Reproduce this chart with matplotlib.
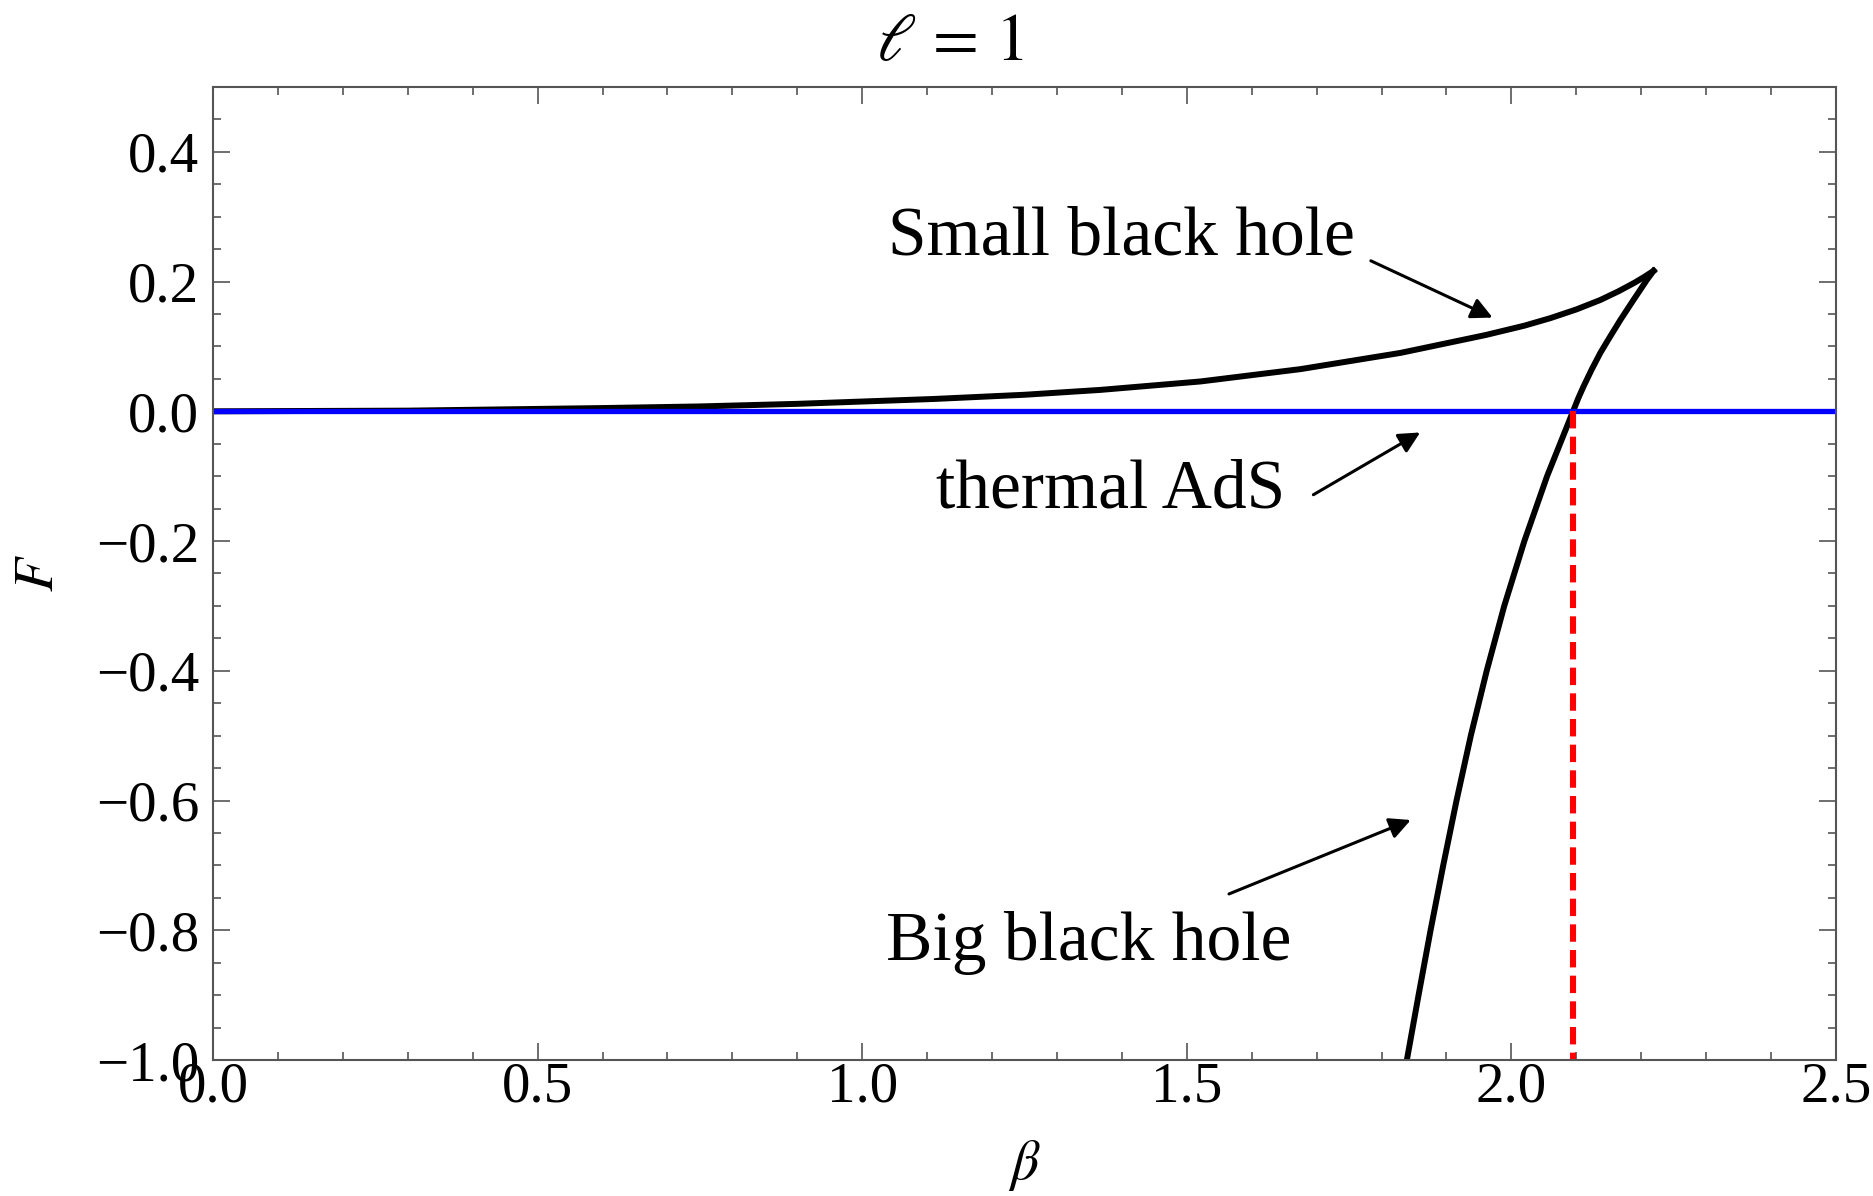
import matplotlib
matplotlib.use('Agg')
import matplotlib.pyplot as plt
from matplotlib.ticker import MultipleLocator

plt.rcParams['font.family'] = ['Liberation Serif', 'DejaVu Serif']
plt.rcParams['mathtext.fontset'] = 'stix'

# small black hole branch (beta, F)
beta_small = [0.0, 0.3, 0.6, 0.75, 0.9, 1.11, 1.25, 1.367, 1.521, 1.675,
              1.829, 1.96, 2.02, 2.06, 2.10, 2.137, 2.165, 2.19, 2.205, 2.219]
F_small = [0.0, 0.001, 0.005, 0.0075, 0.0115, 0.019, 0.0255, 0.033, 0.046, 0.065,
           0.090, 0.1175, 0.132, 0.1436, 0.157, 0.1716, 0.185, 0.1984, 0.2074, 0.2165]

# big black hole branch (beta, F)
beta_big = [2.219, 2.209, 2.187, 2.168, 2.152, 2.137, 2.124, 2.111, 2.103, 2.095,
            2.055, 2.020, 1.989, 1.962, 1.9375, 1.9155, 1.895, 1.8755, 1.857, 1.839]
F_big = [0.2165, 0.203, 0.170, 0.141, 0.115, 0.090, 0.065, 0.038, 0.020, 0.0,
         -0.1, -0.2, -0.3, -0.4, -0.5, -0.6, -0.7, -0.8, -0.9, -1.0]

# Hawking-Page point
beta_hp = 2.095

fig = plt.figure(figsize=(18.74, 11.96), dpi=100)
ax = fig.add_axes([0.1137, 0.1137, 0.866, 0.8136])

ax.plot(beta_small, F_small, color='black', lw=4.3, solid_joinstyle='round')
ax.plot(beta_big, F_big, color='black', lw=4.3, solid_joinstyle='round')
ax.axhline(0.0, color='#0000ff', lw=3.8)
ax.plot([beta_hp, beta_hp], [0.0, -1.0], color='#ff0000', lw=4.4,
        linestyle=(0, (2.85, 1.35)))

ax.set_xlim(0, 2.5)
ax.set_ylim(-1.0, 0.5)
ax.xaxis.set_major_locator(MultipleLocator(0.5))
ax.xaxis.set_minor_locator(MultipleLocator(0.1))
ax.yaxis.set_minor_locator(MultipleLocator(0.05))
ax.set_yticks([-1.0, -0.8, -0.6, -0.4, -0.2, 0.0, 0.2, 0.4])
ax.xaxis.set_major_formatter(plt.FuncFormatter(lambda v, p: f'{v:.1f}'))
ax.yaxis.set_major_formatter(plt.FuncFormatter(lambda v, p: f'{v:.1f}'.replace('-', '\u2212')))

for s in ax.spines.values():
    s.set_color('#555555')
    s.set_linewidth(1.5)
ax.tick_params(which='both', direction='in', top=True, right=True,
               color='#555555', width=1.2, labelsize=41)
ax.tick_params(which='major', length=12)
ax.tick_params(which='minor', length=6)
ax.tick_params(axis='x', pad=1)
ax.tick_params(axis='y', pad=10)

fig.text(0.507, 0.964, r'$\ell\,=\,1$', fontsize=48, ha='center', va='center')
ax.set_xlabel(r'$\beta$', fontsize=40, labelpad=18)
ax.set_ylabel(r'$F$', fontsize=40, labelpad=22)

arrow = dict(arrowstyle='-|>', color='black', lw=2.2, mutation_scale=32,
             shrinkA=0, shrinkB=0)
ax.annotate('Small black hole', xy=(1.971, 0.1445), xytext=(1.399, 0.268),
            fontsize=50, ha='center', va='center')
ax.annotate('', xy=(1.971, 0.1445), xytext=(1.7835, 0.232), arrowprops=arrow)
ax.annotate('thermal AdS', xy=(1.8595, -0.0326), xytext=(1.383, -0.123),
            fontsize=50, ha='center', va='center')
ax.annotate('', xy=(1.8595, -0.0326), xytext=(1.695, -0.1286), arrowprops=arrow)
ax.annotate('Big black hole', xy=(1.845, -0.63), xytext=(1.349, -0.82),
            fontsize=50, ha='center', va='center')
ax.annotate('', xy=(1.845, -0.63), xytext=(1.565, -0.744), arrowprops=arrow)

plt.savefig('out.png', dpi=100)
